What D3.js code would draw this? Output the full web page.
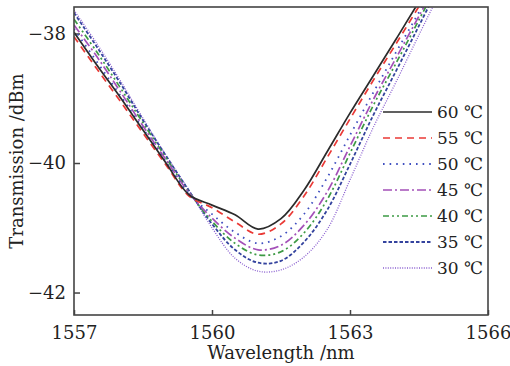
<!DOCTYPE html>
<html>
<head>
<meta charset="utf-8">
<script src="https://cdn.jsdelivr.net/npm/d3@7"></script>
<style>
  body { margin: 0; background: #fff; }
  svg { display: block; }
</style>
</head>
<body>
<div id="chart"></div>
<script>
// wavelength grid (nm)
const wavelengths = [1557, 1557.5, 1558, 1558.5, 1559, 1559.5, 1560, 1560.5, 1561,
    1561.5, 1562, 1562.5, 1563, 1563.5, 1564, 1564.5, 1565];

// transmission (dBm) per temperature
const t60 = [-37.98, -38.49, -38.98, -39.49, -40.00, -40.49, -40.65, -40.80, -41.02,
    -40.86, -40.42, -39.83, -39.23, -38.66, -38.09, -37.51, -36.96];
const t55 = [-38.05, -38.55, -39.04, -39.54, -40.03, -40.51, -40.69, -40.91, -41.10,
    -40.94, -40.51, -39.92, -39.32, -38.73, -38.16, -37.58, -36.99];
const t50 = [-37.93, -38.44, -38.95, -39.47, -39.98, -40.48, -40.79, -41.07, -41.24,
    -41.13, -40.79, -40.23, -39.57, -38.92, -38.29, -37.67, -37.02];
const t45 = [-37.87, -38.36, -38.89, -39.43, -39.95, -40.46, -40.85, -41.16, -41.34,
    -41.27, -40.96, -40.45, -39.74, -39.03, -38.38, -37.73, -37.07];
const t40 = [-37.78, -38.29, -38.83, -39.38, -39.92, -40.45, -40.90, -41.24, -41.42,
    -41.37, -41.08, -40.57, -39.85, -39.12, -38.46, -37.79, -37.11];
const t35 = [-37.68, -38.21, -38.76, -39.34, -39.89, -40.43, -40.94, -41.34, -41.54,
    -41.51, -41.22, -40.73, -40.02, -39.27, -38.58, -37.88, -37.17];
const t30 = [-37.64, -38.16, -38.72, -39.31, -39.88, -40.42, -41.00, -41.47, -41.67,
    -41.65, -41.45, -41.03, -40.26, -39.46, -38.75, -38.02, -37.30];

const labels = ["60 ℃", "55 ℃", "50 ℃", "45 ℃", "40 ℃", "35 ℃", "30 ℃"];
const xTicks = [1557, 1560, 1563, 1566];
const yTicks = [-38, -40, -42];

const series = [
    { label: labels[0], values: t60, color: "#2b2b2b", dash: null, w: 1.7 },
    { label: labels[1], values: t55, color: "#ea3a36", dash: "7,5", w: 1.7 },
    { label: labels[2], values: t50, color: "#3f4fc0", dash: "1.6,5", w: 1.8 },
    { label: labels[3], values: t45, color: "#a450b8", dash: "9,3,2,3", w: 1.7 },
    { label: labels[4], values: t40, color: "#3d9a44", dash: "6,3,2,3,2,3", w: 1.7 },
    { label: labels[5], values: t35, color: "#34439e", dash: "3.5,2", w: 1.8 },
    { label: labels[6], values: t30, color: "#8a5fd0", dash: "1,1.4", w: 1.3 }
];

const font = "'DejaVu Serif', 'Liberation Serif', serif";

const width = 510, height = 366;
const margin = { top: 7, right: 22, bottom: 51, left: 74 };
const iw = width - margin.left - margin.right;
const ih = height - margin.top - margin.bottom;

const svg = d3.select("#chart").append("svg")
    .attr("width", width)
    .attr("height", height);

const x = d3.scaleLinear().domain([1557, 1566]).range([0, iw]);
const y = d3.scaleLinear().domain([-42.347, -37.591]).range([ih, 0]);

const g = svg.append("g").attr("transform", `translate(${margin.left},${margin.top})`);

g.append("clipPath").attr("id", "clip")
    .append("rect").attr("width", iw).attr("height", ih);

// axes with inward ticks
const xAxis = g.append("g")
    .attr("transform", `translate(0,${ih})`)
    .call(d3.axisBottom(x).tickValues(xTicks).tickSize(-5).tickPadding(11).tickFormat(d3.format("d")));
const yAxis = g.append("g")
    .call(d3.axisLeft(y).tickValues(yTicks).tickSize(-6).tickPadding(8).tickFormat(d3.format("d")));

[xAxis, yAxis].forEach(a => {
    a.attr("font-family", font).attr("font-size", 18);
    a.select(".domain").remove();
    a.selectAll(".tick line").attr("stroke", "#444").attr("stroke-width", 1.5);
    a.selectAll(".tick text").attr("fill", "#222");
});

const line = d3.line()
    .x((d, i) => x(wavelengths[i]))
    .y(d => y(d))
    .curve(d3.curveCatmullRom.alpha(0.5));

const curves = g.append("g").attr("clip-path", "url(#clip)");
series.slice().reverse().forEach(s => {
    curves.append("path")
        .datum(s.values)
        .attr("fill", "none")
        .attr("stroke", s.color)
        .attr("stroke-width", s.w)
        .attr("stroke-dasharray", s.dash)
        .attr("d", line);
});

g.append("rect")
    .attr("width", iw).attr("height", ih)
    .attr("fill", "none")
    .attr("stroke", "#444")
    .attr("stroke-width", 1.6);

// legend
const legend = g.append("g").attr("transform", `translate(${383 - margin.left},${112 - margin.top})`);
series.forEach((s, i) => {
    const row = legend.append("g").attr("transform", `translate(0,${i * 26})`);
    row.append("line")
        .attr("x1", 0).attr("x2", 49)
        .attr("stroke", s.color)
        .attr("stroke-width", s.w)
        .attr("stroke-dasharray", s.dash);
    row.append("text")
        .attr("x", 54).attr("y", 6)
        .attr("font-family", font)
        .attr("font-size", 17)
        .attr("fill", "#222")
        .text(s.label);
});

// axis titles
svg.append("text")
    .attr("x", margin.left + iw / 2).attr("y", 359)
    .attr("text-anchor", "middle")
    .attr("font-family", font)
    .attr("font-size", 18)
    .attr("fill", "#222")
    .text("Wavelength /nm");

svg.append("text")
    .attr("transform", `translate(23,${margin.top + ih / 2}) rotate(-90)`)
    .attr("text-anchor", "middle")
    .attr("font-family", font)
    .attr("font-size", 18)
    .attr("fill", "#222")
    .text("Transmission /dBm");
</script>
</body>
</html>
